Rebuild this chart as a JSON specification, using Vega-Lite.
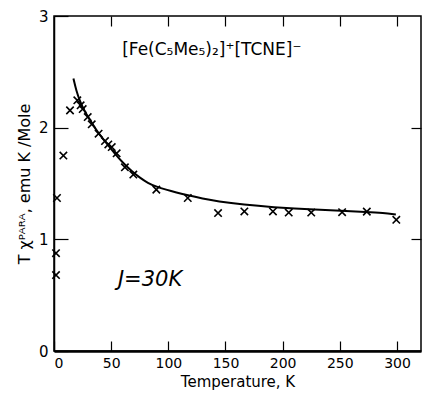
{
  "$schema": "https://vega.github.io/schema/vega-lite/v6.json",
  "width": 367,
  "height": 335,
  "autosize": "none",
  "padding": {"left": 54, "top": 16, "right": 1, "bottom": 44},
  "background": "white",
  "config": {
    "view": {"stroke": "black", "strokeWidth": 1.5},
    "axis": {"labelFont": "DejaVu Sans", "titleFont": "DejaVu Sans", "labelColor": "black", "titleColor": "black", "domainColor": "black", "tickColor": "black", "grid": false}
  },
  "datasets": {
    "obs": [
      {"T": 1.75, "v": 0.68}, {"T": 1.75, "v": 0.876}, {"T": 2.6, "v": 1.37}, {"T": 8.2, "v": 1.75},
      {"T": 14, "v": 2.155}, {"T": 20.4, "v": 2.245}, {"T": 23.3, "v": 2.2}, {"T": 25.1, "v": 2.167},
      {"T": 29.5, "v": 2.095}, {"T": 33, "v": 2.03}, {"T": 39, "v": 1.946}, {"T": 44.6, "v": 1.88},
      {"T": 47.5, "v": 1.85}, {"T": 50.5, "v": 1.826}, {"T": 54.8, "v": 1.77}, {"T": 62, "v": 1.645},
      {"T": 69.4, "v": 1.58}, {"T": 89.5, "v": 1.445}, {"T": 117, "v": 1.37}, {"T": 143.5, "v": 1.235},
      {"T": 166.5, "v": 1.25}, {"T": 191.5, "v": 1.25}, {"T": 205.3, "v": 1.24}, {"T": 225, "v": 1.24},
      {"T": 252, "v": 1.243}, {"T": 273.6, "v": 1.248}, {"T": 299.4, "v": 1.175}
    ],
    "fit": [
      {"T": 17, "v": 2.44}, {"T": 19.5, "v": 2.33}, {"T": 22.7, "v": 2.236}, {"T": 27, "v": 2.14},
      {"T": 31.5, "v": 2.07}, {"T": 38, "v": 1.96}, {"T": 46, "v": 1.86}, {"T": 53, "v": 1.77},
      {"T": 60.7, "v": 1.68}, {"T": 68, "v": 1.61}, {"T": 75.3, "v": 1.55}, {"T": 82, "v": 1.505},
      {"T": 89.8, "v": 1.47}, {"T": 98, "v": 1.445}, {"T": 107, "v": 1.42}, {"T": 116.6, "v": 1.395},
      {"T": 130, "v": 1.365}, {"T": 143, "v": 1.34}, {"T": 166, "v": 1.31}, {"T": 191, "v": 1.288},
      {"T": 224.5, "v": 1.268}, {"T": 252, "v": 1.255}, {"T": 273.6, "v": 1.245}, {"T": 288, "v": 1.236},
      {"T": 299, "v": 1.222}
    ],
    "notes": [
      {"T": 138, "v": 2.7, "label": "[Fe(C₅Me₅)₂]⁺[TCNE]⁻", "kind": "formula"},
      {"T": 84, "v": 0.64, "label": "J=30K", "kind": "j"}
    ]
  },
  "layer": [
    {
      "data": {"name": "fit"},
      "mark": {"type": "line", "color": "black", "strokeWidth": 2, "interpolate": "basis"},
      "encoding": {
        "x": {
          "field": "T", "type": "quantitative",
          "scale": {"domain": [0, 321], "nice": false, "zero": false},
          "axis": {"values": [0, 50, 100, 150, 200, 250, 300], "tickSize": -10, "tickWidth": 1.2, "domainWidth": 2.5, "labelFontSize": 14, "labelPadding": 15, "title": "Temperature, K", "titleFontSize": 15, "titleFontWeight": "normal", "titlePadding": 4}
        },
        "y": {
          "field": "v", "type": "quantitative",
          "scale": {"domain": [0, 3], "nice": false},
          "axis": {"values": [0, 1, 2, 3], "tickSize": -14, "tickWidth": 1.2, "domainWidth": 1.5, "labelFontSize": 15, "labelPadding": 20, "title": "T χᴾᴬᴿᴬ, emu K /Mole", "titleFontSize": 16, "titleFontWeight": "normal", "titlePadding": 6}
        }
      }
    },
    {
      "data": {"name": "obs"},
      "mark": {"type": "point", "shape": "M-1,-1L1,1M1,-1L-1,1", "filled": false, "color": "black", "strokeWidth": 1.6, "size": 55, "opacity": 1},
      "encoding": {
        "x": {"field": "T", "type": "quantitative", "axis": null},
        "y": {"field": "v", "type": "quantitative", "axis": null}
      }
    },
    {
      "data": {"name": "notes"},
      "transform": [{"filter": "datum.kind == 'formula'"}],
      "mark": {"type": "text", "font": "DejaVu Sans", "fontSize": 17, "color": "black", "align": "center", "baseline": "middle"},
      "encoding": {
        "x": {"field": "T", "type": "quantitative", "axis": null},
        "y": {"field": "v", "type": "quantitative", "axis": null},
        "text": {"field": "label"}
      }
    },
    {
      "data": {"name": "notes"},
      "transform": [{"filter": "datum.kind == 'j'"}],
      "mark": {"type": "text", "font": "DejaVu Sans", "fontSize": 21, "fontStyle": "italic", "color": "black", "align": "center", "baseline": "middle"},
      "encoding": {
        "x": {"field": "T", "type": "quantitative", "axis": null},
        "y": {"field": "v", "type": "quantitative", "axis": null},
        "text": {"field": "label"}
      }
    },
    {
      "data": {"values": [{"T": 0, "v": 0}]},
      "mark": {"type": "point", "opacity": 0},
      "encoding": {
        "x": {"field": "T", "type": "quantitative", "axis": {"orient": "top", "values": [50, 100, 150, 200, 250, 300], "tickSize": -10, "tickWidth": 1.2, "labels": false, "title": null, "domain": false}},
        "y": {"field": "v", "type": "quantitative", "axis": {"orient": "right", "values": [1, 2], "tickSize": -10, "tickWidth": 1.2, "labels": false, "title": null, "domain": false}}
      }
    }
  ],
  "resolve": {"axis": {"x": "independent", "y": "independent"}}
}
